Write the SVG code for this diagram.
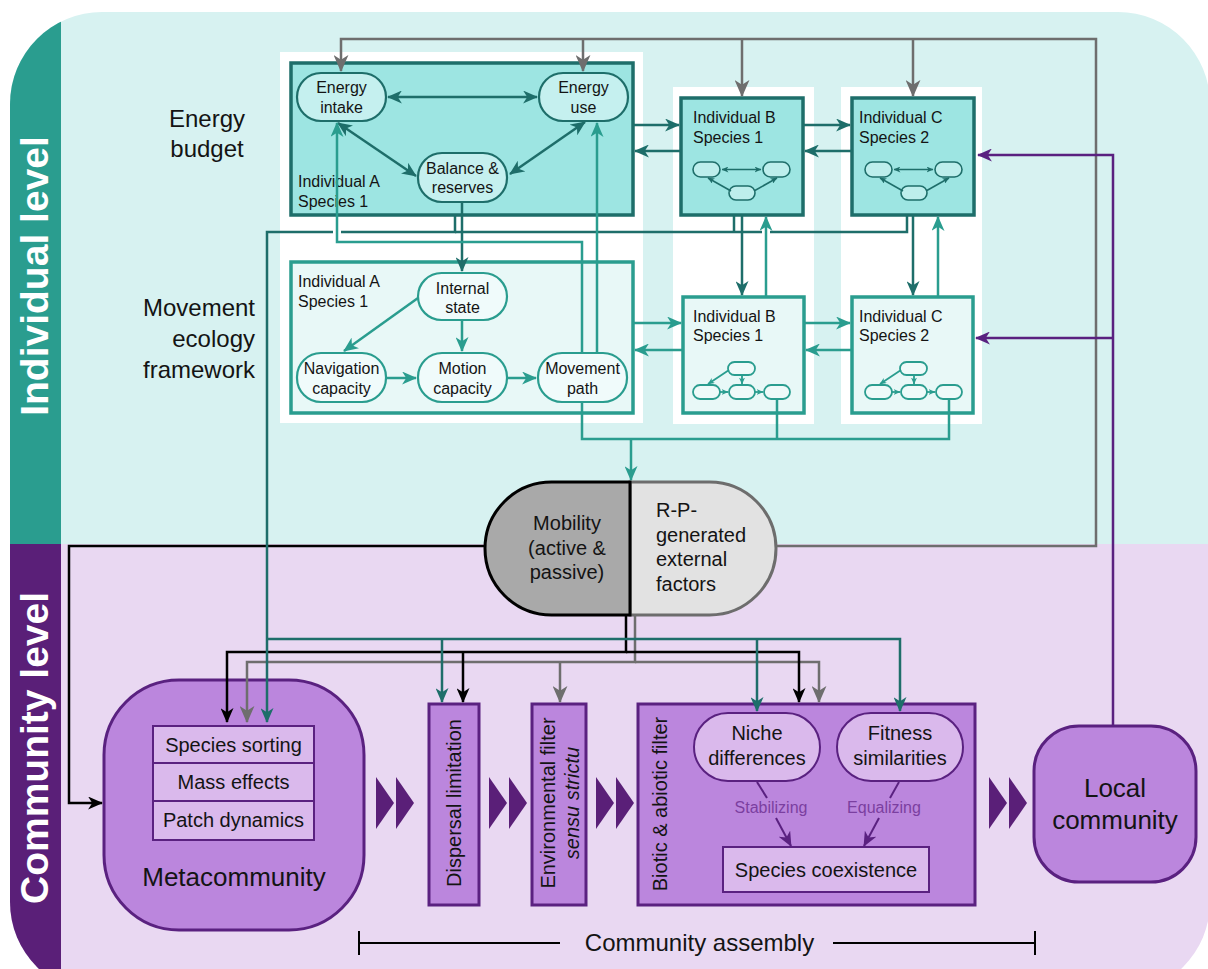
<svg xmlns="http://www.w3.org/2000/svg" width="1208" height="969" viewBox="0 0 1208 969">
<defs>
<style>
text{font-family:"Liberation Sans",Arial,Helvetica,sans-serif;fill:#141414}
.s16{font-size:16px}
.s20{font-size:20px}
.s24{font-size:24px}
.s26{font-size:26px}
.mid{text-anchor:middle}
.end{text-anchor:end}
.side{font-size:39px;font-weight:bold;text-anchor:middle}
.ebox{fill:#9de5e2;stroke:#1e6e6a;stroke-width:3.5}
.epill{fill:#c5f0ef;stroke:#1e6e6a;stroke-width:2.2}
.mbox{fill:#e8f8f7;stroke:#2a9d8f;stroke-width:3.5}
.mpill{fill:#f0fbfb;stroke:#2a9d8f;stroke-width:2.2}
.pnode{fill:#bb86dd;stroke:#5a2180;stroke-width:3}
.pin{fill:#dab9ec;stroke:#5a2180;stroke-width:2}
.dt{stroke:#1e6e6a}
.lt{stroke:#2a9d8f}
.gy{stroke:#6e6e6e}
.bk{stroke:#000}
.pu{stroke:#5a2180}
</style>
<clipPath id="bgclip"><rect x="10" y="12" width="1200" height="982" rx="92"/></clipPath>
<marker id="aDT" viewBox="0 0 16 14" refX="15" refY="7" markerWidth="15" markerHeight="13" markerUnits="userSpaceOnUse" orient="auto-start-reverse"><path d="M0,0 L16,7 L0,14 L4.5,7 z" fill="#1e6e6a"/></marker>
<marker id="aLT" viewBox="0 0 16 14" refX="15" refY="7" markerWidth="15" markerHeight="13" markerUnits="userSpaceOnUse" orient="auto-start-reverse"><path d="M0,0 L16,7 L0,14 L4.5,7 z" fill="#2a9d8f"/></marker>
<marker id="aG" viewBox="0 0 16 14" refX="15" refY="7" markerWidth="17" markerHeight="15" markerUnits="userSpaceOnUse" orient="auto-start-reverse"><path d="M0,0 L16,7 L0,14 L4.5,7 z" fill="#6e6e6e"/></marker>
<marker id="aBK" viewBox="0 0 16 14" refX="15" refY="7" markerWidth="15" markerHeight="13" markerUnits="userSpaceOnUse" orient="auto-start-reverse"><path d="M0,0 L16,7 L0,14 L4.5,7 z" fill="#000"/></marker>
<marker id="aPU" viewBox="0 0 16 14" refX="15" refY="7" markerWidth="15" markerHeight="13" markerUnits="userSpaceOnUse" orient="auto-start-reverse"><path d="M0,0 L16,7 L0,14 L4.5,7 z" fill="#5a2180"/></marker>
<marker id="sDT" viewBox="0 0 16 14" refX="15" refY="7" markerWidth="7" markerHeight="6" markerUnits="userSpaceOnUse" orient="auto-start-reverse"><path d="M0,0 L16,7 L0,14 L4.5,7 z" fill="#1e6e6a"/></marker>
<marker id="sLT" viewBox="0 0 16 14" refX="15" refY="7" markerWidth="7" markerHeight="6" markerUnits="userSpaceOnUse" orient="auto-start-reverse"><path d="M0,0 L16,7 L0,14 L4.5,7 z" fill="#2a9d8f"/></marker>
<g id="miniE">
<g fill="#bdeeec" stroke="#1e6e6a" stroke-width="1.6">
<rect x="693" y="162" width="27" height="15" rx="7.5"/>
<rect x="763" y="162" width="27" height="15" rx="7.5"/>
<rect x="729" y="186" width="26" height="14" rx="7"/>
</g>
<g fill="none" stroke="#1e6e6a" stroke-width="1.6">
<path d="M722,169.5 H761" marker-start="url(#sDT)" marker-end="url(#sDT)"/>
<path d="M731,191 L708,178" marker-end="url(#sDT)"/>
<path d="M754,191 L777,178" marker-end="url(#sDT)"/>
</g>
</g>
<g id="miniM">
<g fill="#eefaf9" stroke="#2a9d8f" stroke-width="1.8">
<rect x="728" y="362" width="27" height="13" rx="6.5"/>
<rect x="693" y="385" width="27" height="14" rx="7"/>
<rect x="729" y="385" width="26" height="14" rx="7"/>
<rect x="764" y="385" width="26" height="14" rx="7"/>
</g>
<g fill="none" stroke="#2a9d8f" stroke-width="1.8">
<path d="M729,370 L708,384" marker-end="url(#sLT)"/>
<path d="M742,375 V384" marker-end="url(#sLT)"/>
<path d="M720,392 H728" marker-end="url(#sLT)"/>
<path d="M755,392 H763" marker-end="url(#sLT)"/>
</g>
</g>
</defs>

<g id="background" clip-path="url(#bgclip)">
<rect x="0" y="0" width="1210" height="544" fill="#d7f2f1"/>
<rect x="0" y="544" width="1210" height="460" fill="#e9d8f2"/>
<rect x="0" y="0" width="61" height="544" fill="#2a9d8f"/>
<rect x="0" y="544" width="61" height="460" fill="#5a1f78"/>
</g>
<g id="sidebar-labels">
<text transform="translate(48,276) rotate(-90)" class="side" style="fill:#fff">Individual level</text>
<text transform="translate(48,748) rotate(-90)" class="side" style="fill:#fff">Community level</text>
</g>
<g id="row-labels">
<text class="s24 mid" x="207" y="127">Energy</text>
<text class="s24 mid" x="207" y="157">budget</text>
<text class="s24 end" x="255" y="316">Movement</text>
<text class="s24 end" x="255" y="347">ecology</text>
<text class="s24 end" x="255" y="378">framework</text>
</g>
<g id="panels" fill="#fff">
<rect x="280" y="52" width="363" height="371"/>
<rect x="673" y="87" width="141" height="337"/>
<rect x="841" y="87" width="141" height="337"/>
</g>

<g id="energyA">
<rect class="ebox" x="291" y="63" width="342" height="152"/>
<text class="s16" x="298" y="187">Individual A</text>
<text class="s16" x="298" y="207">Species 1</text>
</g>
<g id="energy-intake">
<rect class="epill" x="297" y="73" width="89" height="48" rx="24"/>
<text class="s16 mid" x="341.5" y="93">Energy</text>
<text class="s16 mid" x="341.5" y="113">intake</text>
</g>
<g id="energy-use">
<rect class="epill" x="539" y="73" width="89" height="48" rx="24"/>
<text class="s16 mid" x="583.5" y="93">Energy</text>
<text class="s16 mid" x="583.5" y="113">use</text>
</g>
<g id="balance">
<rect class="epill" x="418" y="153" width="89" height="49" rx="24"/>
<text class="s16 mid" x="462.5" y="174">Balance &amp;</text>
<text class="s16 mid" x="462.5" y="193">reserves</text>
</g>
<g id="energyB">
<rect class="ebox" x="681" y="98" width="122" height="117"/>
<text class="s16" x="693" y="123">Individual B</text>
<text class="s16" x="693" y="143">Species 1</text>
<use href="#miniE"/>
</g>
<g id="energyC">
<rect class="ebox" x="852" y="98" width="122" height="117"/>
<text class="s16" x="859" y="123">Individual C</text>
<text class="s16" x="859" y="143">Species 2</text>
<use href="#miniE" transform="translate(172,0)"/>
</g>

<g id="movementA">
<rect class="mbox" x="291" y="262" width="342" height="151"/>
<text class="s16" x="298" y="287">Individual A</text>
<text class="s16" x="298" y="307">Species 1</text>
</g>
<g id="internal-state">
<rect class="mpill" x="418" y="273" width="89" height="47" rx="23.5"/>
<text class="s16 mid" x="462.5" y="294">Internal</text>
<text class="s16 mid" x="462.5" y="313">state</text>
</g>
<g id="navigation">
<rect class="mpill" x="297" y="353" width="89" height="49" rx="24"/>
<text class="s16 mid" x="341.5" y="374">Navigation</text>
<text class="s16 mid" x="341.5" y="394">capacity</text>
</g>
<g id="motion">
<rect class="mpill" x="418" y="353" width="89" height="49" rx="24"/>
<text class="s16 mid" x="462.5" y="374">Motion</text>
<text class="s16 mid" x="462.5" y="394">capacity</text>
</g>
<g id="movement-path">
<rect class="mpill" x="538" y="353" width="89" height="49" rx="24"/>
<text class="s16 mid" x="582.5" y="374">Movement</text>
<text class="s16 mid" x="582.5" y="394">path</text>
</g>
<g id="movementB">
<rect class="mbox" x="683" y="297" width="121" height="116"/>
<text class="s16" x="693" y="322">Individual B</text>
<text class="s16" x="693" y="341">Species 1</text>
<use href="#miniM"/>
</g>
<g id="movementC">
<rect class="mbox" x="852" y="297" width="121" height="116"/>
<text class="s16" x="859" y="322">Individual C</text>
<text class="s16" x="859" y="341">Species 2</text>
<use href="#miniM" transform="translate(172,0)"/>
</g>

<g id="rp-factors">
<path d="M630,482 H709.5 A66.5,66.5 0 0 1 709.5,615 H630 Z" fill="#e2e2e2" stroke="#6d6d6d" stroke-width="3"/>
<text class="s20" x="656" y="517">R-P-</text>
<text class="s20" x="656" y="542">generated</text>
<text class="s20" x="656" y="566">external</text>
<text class="s20" x="656" y="591">factors</text>
</g>
<g id="mobility">
<path d="M630,482 H551.5 A66.5,66.5 0 0 0 551.5,615 H630 Z" fill="#a9a9a9" stroke="#000" stroke-width="3"/>
<text class="s20 mid" x="567" y="530">Mobility</text>
<text class="s20 mid" x="567" y="555">(active &amp;</text>
<text class="s20 mid" x="567" y="579">passive)</text>
</g>

<g id="metacommunity">
<rect class="pnode" x="104" y="680" width="260" height="250" rx="75"/>
<rect class="pin" x="153" y="726" width="161" height="37"/>
<rect class="pin" x="153" y="763" width="161" height="38"/>
<rect class="pin" x="153" y="801" width="161" height="39"/>
<text class="s20 mid" x="233.5" y="752">Species sorting</text>
<text class="s20 mid" x="233.5" y="789">Mass effects</text>
<text class="s20 mid" x="233.5" y="827">Patch dynamics</text>
<text class="s26 mid" x="234" y="886">Metacommunity</text>
</g>
<g id="dispersal">
<rect class="pnode" x="429" y="704" width="50" height="201"/>
<text class="s20 mid" transform="translate(461,803) rotate(-90)">Dispersal limitation</text>
</g>
<g id="environmental">
<rect class="pnode" x="532" y="704" width="54" height="201"/>
<text class="s20 mid" transform="translate(555,803) rotate(-90)">Environmental filter</text>
<text class="s20 mid" transform="translate(579,803) rotate(-90)" font-style="italic">sensu strictu</text>
</g>
<g id="biotic">
<rect class="pnode" x="638" y="704" width="337" height="201"/>
<text class="s20 mid" transform="translate(667,804) rotate(-90)">Biotic &amp; abiotic filter</text>
</g>
<g id="niche">
<rect class="pin" x="694" y="713" width="126" height="68" rx="34"/>
<text class="s20 mid" x="757" y="740">Niche</text>
<text class="s20 mid" x="757" y="765">differences</text>
</g>
<g id="fitness">
<rect class="pin" x="837" y="713" width="126" height="68" rx="34"/>
<text class="s20 mid" x="900" y="740">Fitness</text>
<text class="s20 mid" x="900" y="765">similarities</text>
</g>
<g id="coexistence">
<rect class="pin" x="723" y="847" width="206" height="45"/>
<text class="s20 mid" x="826" y="877">Species coexistence</text>
</g>
<g id="local-community">
<rect class="pnode" x="1034" y="726" width="162" height="156" rx="45"/>
<text class="s26 mid" x="1115" y="797">Local</text>
<text class="s26 mid" x="1115" y="829">community</text>
</g>
<g id="chevrons" fill="#5a1f78">
<polygon points="376,777 394,803 376,829"/>
<polygon points="396,777 414,803 396,829"/>
<polygon points="489,777 507,803 489,829"/>
<polygon points="509,777 527,803 509,829"/>
<polygon points="596,777 614,803 596,829"/>
<polygon points="616,777 634,803 616,829"/>
<polygon points="989,777 1007,803 989,829"/>
<polygon points="1009,777 1027,803 1009,829"/>
</g>
<g id="assembly">
<path d="M359,931 V955 M359,943 H560 M833,943 H1035 M1035,931 V955" fill="none" stroke="#000" stroke-width="2"/>
<text class="s24 mid" x="699.5" y="951">Community assembly</text>
</g>

<g id="connectors" fill="none" stroke-width="2.5">
<path class="gy" d="M776,546 H1096 V39 H341 V71" marker-end="url(#aG)"/>
<path class="gy" d="M583,39 V71" marker-end="url(#aG)"/>
<path class="gy" d="M742,39 V96" marker-end="url(#aG)"/>
<path class="gy" d="M913,39 V96" marker-end="url(#aG)"/>
<path class="gy" d="M635,615 V662 H247 V722" marker-end="url(#aG)"/>
<path class="gy" d="M635,662 H819 V702" marker-end="url(#aG)"/>
<path class="gy" d="M560,662 V702" marker-end="url(#aG)"/>

<path class="bk" d="M485,546 H69 V803 H102" marker-end="url(#aBK)"/>
<path class="bk" d="M626,615 V652 H227 V722" marker-end="url(#aBK)"/>
<path class="bk" d="M626,652 H799 V702" marker-end="url(#aBK)"/>
<path class="bk" d="M463,652 V702" marker-end="url(#aBK)"/>

<path class="dt" d="M455,215 V232 H267 V722" marker-end="url(#aDT)"/>
<path class="dt" d="M907,215 V232 H455"/>
<path class="dt" d="M734,215 V232"/>
<path class="dt" d="M462,202 V271" marker-end="url(#aDT)"/>
<path class="dt" d="M742,215 V295" marker-end="url(#aDT)"/>
<path class="dt" d="M913,215 V295" marker-end="url(#aDT)"/>
<path class="dt" d="M267,639 H900 V711" marker-end="url(#aDT)"/>
<path class="dt" d="M442,639 V702" marker-end="url(#aDT)"/>
<path class="dt" d="M757,639 V711" marker-end="url(#aDT)"/>
<path class="dt" d="M633,125 H679" marker-end="url(#aDT)"/>
<path class="dt" d="M681,151 H635" marker-end="url(#aDT)"/>
<path class="dt" d="M803,125 H850" marker-end="url(#aDT)"/>
<path class="dt" d="M852,151 H805" marker-end="url(#aDT)"/>
<path class="dt" d="M388,97 H537" marker-start="url(#aDT)" marker-end="url(#aDT)"/>
<path class="dt" d="M338,123 L416,176" marker-start="url(#aDT)" marker-end="url(#aDT)"/>
<path class="dt" d="M585,122 L510,174" marker-start="url(#aDT)" marker-end="url(#aDT)"/>

<path stroke="#fff" stroke-width="8" d="M337,228 V236 M766,228 V236 M938,228 V236"/>

<path class="lt" d="M582,353 V242 H337 V123" marker-end="url(#aLT)"/>
<path class="lt" d="M597,353 V123" marker-end="url(#aLT)"/>
<path class="lt" d="M766,297 V217" marker-end="url(#aLT)"/>
<path class="lt" d="M938,297 V217" marker-end="url(#aLT)"/>
<path class="lt" d="M633,323 H681" marker-end="url(#aLT)"/>
<path class="lt" d="M683,350 H635" marker-end="url(#aLT)"/>
<path class="lt" d="M804,323 H850" marker-end="url(#aLT)"/>
<path class="lt" d="M852,350 H806" marker-end="url(#aLT)"/>
<path class="lt" d="M582,402 V439 H949 V399"/>
<path class="lt" d="M777,399 V439"/>
<path class="lt" d="M631,439 V480" marker-end="url(#aLT)"/>
<path class="lt" d="M418,298 L344,351" marker-end="url(#aLT)"/>
<path class="lt" d="M462,320 V351" marker-end="url(#aLT)"/>
<path class="lt" d="M386,378 H416" marker-end="url(#aLT)"/>
<path class="lt" d="M507,378 H536" marker-end="url(#aLT)"/>

<path class="pu" d="M1113,726 V155 H978" marker-end="url(#aPU)"/>
<path class="pu" d="M1113,338 H976" marker-end="url(#aPU)"/>

<path class="pu" stroke-width="2" d="M757,782 L767,798"/>
<path class="pu" stroke-width="2" d="M776,818 L791,846" marker-end="url(#aPU)"/>
<path class="pu" stroke-width="2" d="M899,782 L890,798"/>
<path class="pu" stroke-width="2" d="M879,818 L864,846" marker-end="url(#aPU)"/>
</g>
<g id="edge-labels">
<text class="s16 mid" x="771" y="813" style="fill:#7b3fa0">Stabilizing</text>
<text class="s16 mid" x="884" y="813" style="fill:#7b3fa0">Equalizing</text>
</g>
</svg>
